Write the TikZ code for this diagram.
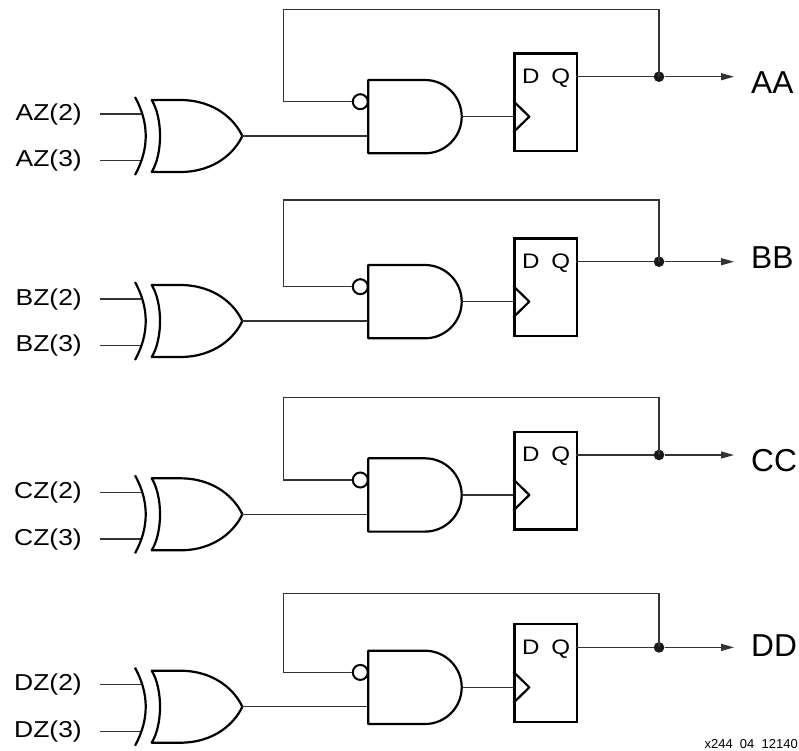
\documentclass[tikz,border=0pt]{standalone}
\usepackage{fontspec}
\setmainfont{Liberation Sans}
\newfontfamily\widesans[FakeStretch=1.15]{Liberation Sans}
\usetikzlibrary{arrows.meta}
\tikzset{
  gate/.style={line width=2.2pt, line join=round},
  wire/.style={line width=1.3pt, draw=black!80},
  ffbox/.style={draw, line width=2.2pt, inner sep=0, minimum width=62.4pt, minimum height=97.7pt, anchor=north west},
  bubble/.style={circle, draw, line width=2pt, inner sep=0, minimum size=15pt},
  junction/.style={circle, fill=black!90, inner sep=0, minimum size=10.6pt},
  inlabel/.style={font=\widesans\fontsize{23}{23}\selectfont, inner sep=0, anchor=base east},
  pinlabel/.style={font=\widesans\fontsize{21}{21}\selectfont, inner sep=0, anchor=base},
  outlabel/.style={font=\fontsize{31.7}{32}\selectfont, inner sep=0, anchor=base west},
  outarrow/.style={wire, -{Triangle[length=13pt,width=7pt]}},
  caplabel/.style={font=\fontsize{13}{13}\selectfont, inner sep=0, anchor=base east},
}
\newcommand\logicrow[6]{%
\begin{scope}[shift={(0,#2)}]
  \node[inlabel] (#1l2) at (82,40) {#5Z(2)};
  \node[inlabel] (#1l3) at (82,86.7) {#5Z(3)};
  \coordinate (#1i2) at (100,34);
  \coordinate (#1i3) at (100,80.7);
  \coordinate (#1x2) at (141,34);
  \coordinate (#1x3) at (141,80.7);
  \draw[wire] (#1i2) -- (#1x2);
  \draw[wire] (#1i3) -- (#1x3);
  \draw[gate] (135,17) .. controls (149.3,43) and (149.3,69) .. (135,95);
  \draw[gate] (151.7,20) -- (180,20) .. controls (215,20) and (235,40) .. (242.3,56)
     .. controls (235,72) and (215,92) .. (180,92) -- (151.7,92)
     .. controls (162.8,74) and (162.8,38) .. cycle;
  \coordinate (#1xo) at (242.3,56);
  \coordinate (#1ai) at (368.3,56);
  \draw[wire] (#1xo) -- (#1ai);
  \draw[gate] (368.3,0) -- (425,0) .. controls (445.2,0) and (461.7,16.4) .. (461.7,36.65)
     .. controls (461.7,56.9) and (445.2,73.3) .. (425,73.3) -- (368.3,73.3) -- cycle;
  \coordinate (#1ao) at (461.7,36.65);
  \node[bubble] (#1bub) at (360.3,21.7) {};
  \node[ffbox] (#1ff) at (513.3,-27.7) {};
  \coordinate (#1clk) at (513.3,36.65);
  \draw[wire] (#1ao) -- (#1clk);
  \draw[gate] (513.3,21) -- (529.3,36.65) -- (513.3,52.3);
  \node[pinlabel] (#1d) at (530.8,3.3) {D};
  \node[pinlabel] (#1q) at (560.7,3.3) {Q};
  \coordinate (#1qo) at (575.7,-3.3);
  \coordinate (#1tip) at (734,-3.3);
  \coordinate (#1fa) at (659,#3);
  \coordinate (#1fb) at (283.3,#3);
  \coordinate (#1fc) at (283.3,21.7);
  \node[junction] (#1dot) at (659,-3.3) {};
  \draw[wire] (#1qo) -- (#1dot);
  \draw[outarrow] (#1dot) -- (#1tip);
  \draw[wire] (#1dot.center) -- (#1fa) -- (#1fb) -- (#1fc) -- (#1bub.west);
  \node[outlabel] (#1out) at (751,#4) {#6};
\end{scope}}
\begin{document}
\begin{tikzpicture}[x=1pt,y=-1pt]
  \useasboundingbox (0,0) rectangle (799,750);
  \logicrow{A}{80}{-70.7}{13.3}{A}{AA}
  \logicrow{B}{265}{-65}{3.3}{B}{BB}
  \logicrow{C}{458.3}{-60.6}{13.4}{C}{CC}
  \logicrow{D}{650.7}{-57.4}{6}{D}{DD}
  \node[caplabel] (cap) at (798,748.3) {x244\ \ 04\ \ 12140};
\end{tikzpicture}
\end{document}
